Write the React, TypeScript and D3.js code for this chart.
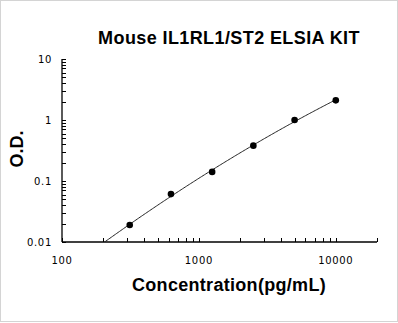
import React from "react";
import * as d3 from "d3";

// Standard curve: concentration (pg/mL) vs optical density
const concentrations = [312.5, 625, 1250, 2500, 5000, 10000];
const odValues = [0.019, 0.061, 0.141, 0.38, 1.0, 2.1];
const xTickValues = [100, 1000, 10000];
const yTickValues = [0.01, 0.1, 1, 10];
const yTickLabels = ["0.01", "0.1", "1", "10"];

const W = 398;
const H = 323;
const left = 62;
const right = 377;
const top = 59;
const bottom = 242;

// least-squares cubic fit in log-log space
function fitPoly(xs: number[], ys: number[], deg: number): number[] {
  const n = deg + 1;
  const A: number[][] = Array.from({ length: n }, () => new Array(n + 1).fill(0));
  for (let k = 0; k < xs.length; k++) {
    for (let i = 0; i < n; i++) {
      for (let j = 0; j < n; j++) A[i][j] += Math.pow(xs[k], i + j);
      A[i][n] += ys[k] * Math.pow(xs[k], i);
    }
  }
  for (let i = 0; i < n; i++) {
    let p = i;
    for (let r = i + 1; r < n; r++) if (Math.abs(A[r][i]) > Math.abs(A[p][i])) p = r;
    [A[i], A[p]] = [A[p], A[i]];
    for (let r = 0; r < n; r++) {
      if (r === i) continue;
      const f = A[r][i] / A[i][i];
      for (let c = i; c <= n; c++) A[r][c] -= f * A[i][c];
    }
  }
  return A.map((row, i) => row[n] / row[i]);
}

export default function App() {
  const x = d3.scaleLog().domain([100, 20000]).range([left, right]);
  const y = d3.scaleLog().domain([0.01, 10]).range([bottom, top]);

  const lx = concentrations.map((c) => Math.log10(c));
  const ly = odValues.map((v) => Math.log10(v));
  const coef = fitPoly(lx, ly, 3);
  const evalFit = (t: number) => coef.reduce((s, c, i) => s + c * Math.pow(t, i), 0);

  const samples: [number, number][] = [];
  const t0 = 2.0;
  const t1 = Math.log10(concentrations[concentrations.length - 1]);
  for (let i = 0; i <= 200; i++) {
    const t = t0 + ((t1 - t0) * i) / 200;
    samples.push([Math.pow(10, t), Math.pow(10, evalFit(t))]);
  }
  const line = d3
    .line<[number, number]>()
    .x((d) => x(d[0]))
    .y((d) => y(d[1]));

  const xMinor: number[] = [];
  for (let dec = 100; dec < 20000; dec *= 10)
    for (let m = 1; m <= 9; m++) {
      const v = dec * m;
      if (v <= 20000) xMinor.push(v);
    }
  const yMinor: number[] = [];
  for (let dec = 0.01; dec < 10; dec *= 10)
    for (let m = 1; m <= 9; m++) yMinor.push(dec * m);
  yMinor.push(10);

  const tickFont = "DejaVu Sans, sans-serif";
  const boldFont = "Liberation Sans, Arial, sans-serif";

  return (
    <svg
      width={W}
      height={H}
      style={{ position: "absolute", left: 0, top: 0, background: "#fff" }}
    >
      <rect x={0.5} y={0.5} width={397} height={321} fill="#fff" stroke="#d4d4d4" />
      <defs>
        <clipPath id="plotClip">
          <rect x={left} y={top} width={right - left} height={bottom - top} />
        </clipPath>
      </defs>

      <text
        x={229}
        y={44}
        textAnchor="middle"
        fontFamily={boldFont}
        fontWeight="bold"
        fontSize={18}
        letterSpacing={0.4}
      >
        Mouse IL1RL1/ST2 ELSIA KIT
      </text>

      {/* axes */}
      <line x1={left} x2={left} y1={top} y2={bottom} stroke="#000" strokeWidth={1.3} />
      <line x1={left} x2={right} y1={bottom} y2={bottom} stroke="#000" strokeWidth={1.3} />

      {yMinor.map((v, i) => (
        <line
          key={"ym" + i}
          x1={left}
          x2={left + 4}
          y1={Math.round(y(v)) + 0.5}
          y2={Math.round(y(v)) + 0.5}
          stroke="#000"
          strokeWidth={1}
        />
      ))}
      {xMinor.map((v, i) => (
        <line
          key={"xm" + i}
          x1={Math.round(x(v)) + 0.5}
          x2={Math.round(x(v)) + 0.5}
          y1={bottom}
          y2={bottom - 4}
          stroke="#000"
          strokeWidth={1}
        />
      ))}

      {yTickValues.map((v, i) => (
        <text
          key={"yl" + i}
          x={52}
          y={y(v) + 4}
          textAnchor="end"
          fontFamily={tickFont}
          fontSize={10}
          letterSpacing={0.7}
          fill="#000"
        >
          {yTickLabels[i]}
        </text>
      ))}
      {xTickValues.map((v, i) => (
        <text
          key={"xl" + i}
          x={x(v)}
          y={264}
          textAnchor="middle"
          fontFamily={tickFont}
          fontSize={10}
          letterSpacing={0.7}
          fill="#000"
        >
          {d3.format("d")(v)}
        </text>
      ))}

      <path
        d={line(samples) || ""}
        fill="none"
        stroke="#222"
        strokeWidth={1}
        clipPath="url(#plotClip)"
      />

      {concentrations.map((c, i) => (
        <circle key={"p" + i} cx={x(c)} cy={y(odValues[i])} r={3.3} fill="#000" />
      ))}

      <text
        x={229}
        y={291}
        textAnchor="middle"
        fontFamily={boldFont}
        fontWeight="bold"
        fontSize={18}
        letterSpacing={0.3}
      >
        Concentration(pg/mL)
      </text>
      <text
        transform="translate(23,149) rotate(-90)"
        textAnchor="middle"
        fontFamily={boldFont}
        fontWeight="bold"
        fontSize={18}
      >
        O.D.
      </text>
    </svg>
  );
}
